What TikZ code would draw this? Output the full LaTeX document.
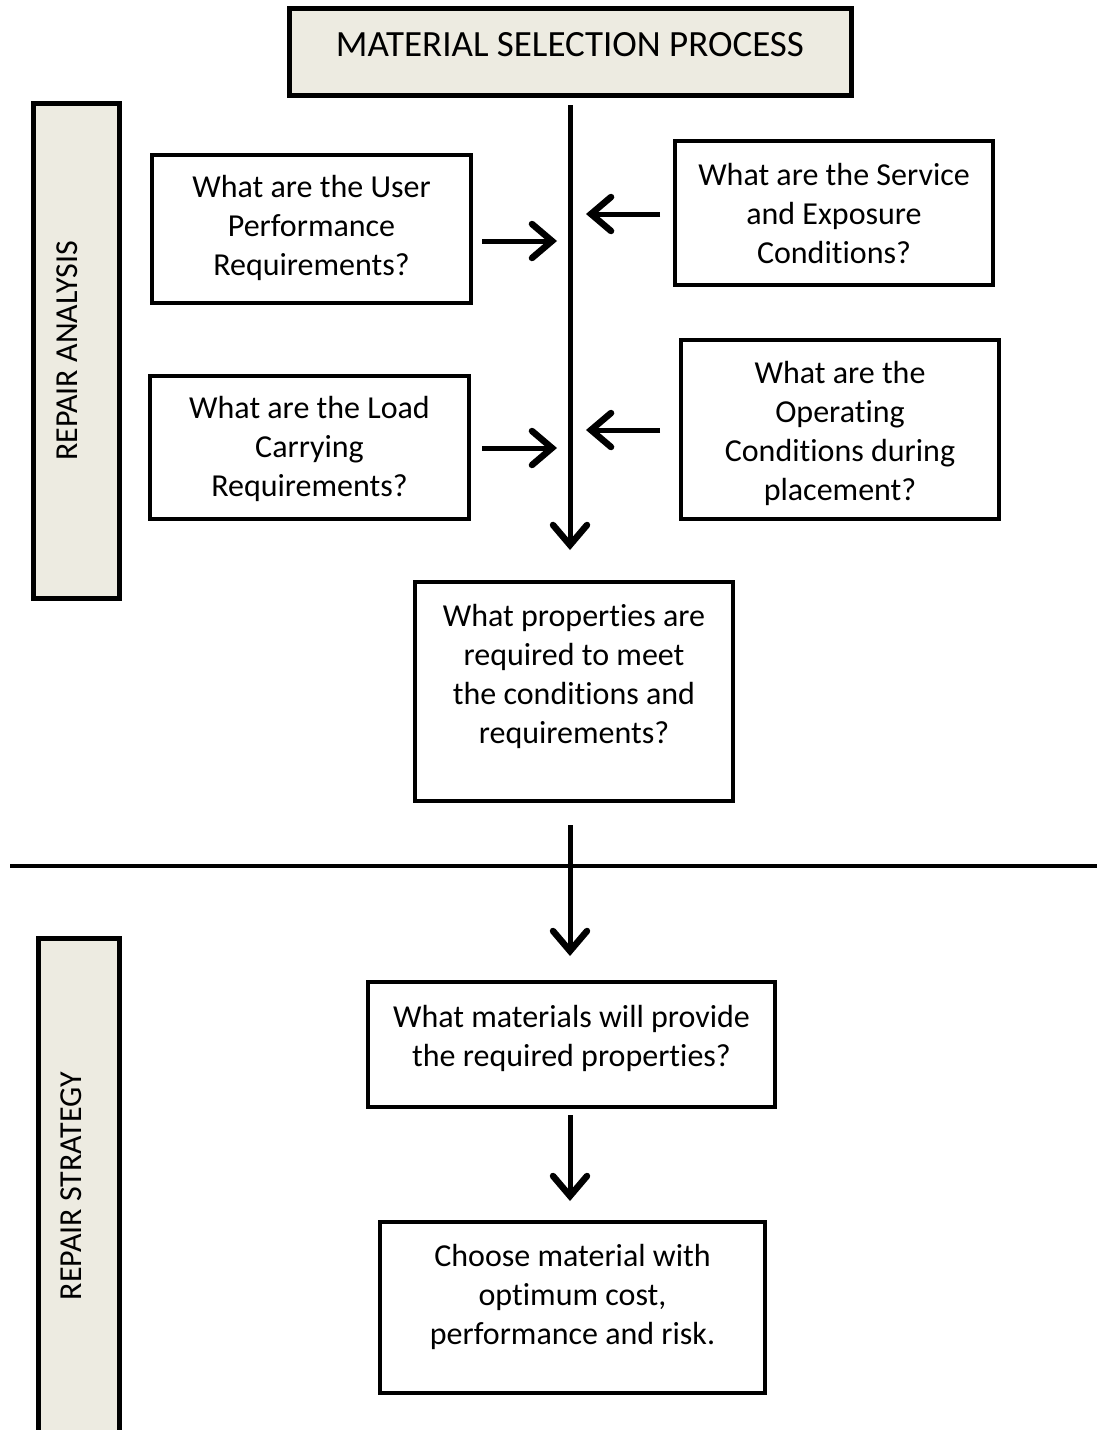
\documentclass[tikz,border=0pt]{standalone}
\usepackage{fontspec}
\setmainfont{Carlito}[Ligatures={NoCommon}]
\usetikzlibrary{arrows.meta}
\definecolor{barfill}{HTML}{EDEBE1}
\tikzset{
  box/.style={draw, line width=4pt, rectangle, inner sep=0pt},
  bar/.style={draw, line width=5pt, fill=barfill, rectangle, inner sep=0pt},
  txt/.style={align=center, font=\fontsize{32}{39}\selectfont, inner sep=0pt},
  arr/.style={line width=5pt, -{Straight Barb[length=20pt, width=34pt, line width=6.5pt, line cap=round, line join=miter]}},
}
\begin{document}
\begin{tikzpicture}[x=1pt, y=-1pt]
\clip (0,0) rectangle (1097,1430);
\fill[white] (0,0) rectangle (1097,1430);
% title
\node[bar, minimum width=562pt, minimum height=87pt] (title) at (570,51.5) {};
\node[txt, font=\fontsize{37}{44}\selectfont] (titlet) at (570,45) {MATERIAL SELECTION PROCESS};
% side bars
\node[bar, minimum width=86pt, minimum height=495pt] (barA) at (76,350.5) {};
\node[txt, rotate=90] (barAt) at (67,351) {REPAIR ANALYSIS};
\node[bar, minimum width=81pt, minimum height=520pt] (barB) at (78.5,1198) {};
\node[txt, rotate=90] (barBt) at (71,1186) {REPAIR STRATEGY};
% boxes
\node[box, minimum width=319pt, minimum height=148pt] (upr) at (311.5,229) {};
\node[txt] (uprt) at (311.5,228) {What are the User\\Performance\\Requirements?};
\node[box, minimum width=318pt, minimum height=144pt] (sec) at (834,213) {};
\node[txt] (sect) at (834,214) {What are the Service\\and Exposure\\Conditions?};
\node[box, minimum width=319pt, minimum height=143pt] (lcr) at (309.5,447.5) {};
\node[txt] (lcrt) at (309.5,449) {What are the Load\\Carrying\\Requirements?};
\node[box, minimum width=318pt, minimum height=179pt] (oc) at (840,429.5) {};
\node[txt] (oct) at (840,433) {What are the\\Operating\\Conditions during\\placement?};
\node[box, minimum width=318pt, minimum height=219pt] (prop) at (574,691.5) {};
\node[txt] (propt) at (574,676) {What properties are\\required to meet\\the conditions and\\requirements?};
\node[box, minimum width=407pt, minimum height=125pt] (mat) at (571.5,1044.5) {};
\node[txt] (matt) at (571.5,1038) {What materials will provide\\the required properties?};
\node[box, minimum width=385pt, minimum height=171pt] (cho) at (572.5,1307.5) {};
\node[txt] (chot) at (572.5,1297) {Choose material with\\optimum cost,\\performance and risk.};
% coordinates
\coordinate (m0) at (570,105);
\coordinate (m1) at (570,550);
\coordinate (a1s) at (482,241);
\coordinate (a1e) at (557,241);
\coordinate (a2s) at (660,214);
\coordinate (a2e) at (586,214);
\coordinate (a3s) at (482,448);
\coordinate (a3e) at (557,448);
\coordinate (a4s) at (660,430);
\coordinate (a4e) at (586,430);
\coordinate (h0) at (10,866);
\coordinate (h1) at (1100,866);
\coordinate (d1s) at (570,825);
\coordinate (d1e) at (570,956);
\coordinate (d2s) at (570,1115);
\coordinate (d2e) at (570,1201);
% connectors
\draw[arr] (m0) -- (m1);
\draw[arr] (a1s) -- (a1e);
\draw[arr] (a2s) -- (a2e);
\draw[arr] (a3s) -- (a3e);
\draw[arr] (a4s) -- (a4e);
\draw[line width=4pt] (h0) -- (h1);
\draw[arr] (d1s) -- (d1e);
\draw[arr] (d2s) -- (d2e);
\end{tikzpicture}
\end{document}
